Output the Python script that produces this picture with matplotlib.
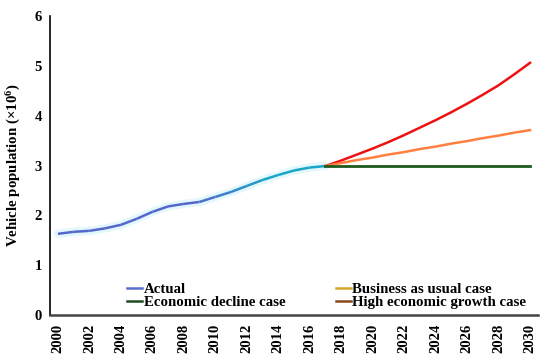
import numpy as np
import matplotlib
matplotlib.use('Agg')
from matplotlib import pyplot as plt
from matplotlib.collections import LineCollection
from matplotlib.lines import Line2D
from matplotlib.colors import to_rgb

plt.rcParams['font.family'] = ['Liberation Serif', 'DejaVu Serif']
plt.rcParams['font.weight'] = 'bold'
plt.rcParams['mathtext.fontset'] = 'custom'
plt.rcParams['mathtext.rm'] = 'Liberation Serif:bold'
plt.rcParams['mathtext.default'] = 'rm'

# data
years_actual = np.arange(2000, 2018)
actual = [1.63, 1.67, 1.69, 1.74, 1.81, 1.93, 2.07, 2.18, 2.23, 2.27,
          2.37, 2.47, 2.59, 2.71, 2.81, 2.90, 2.96, 2.99]
years_proj = np.arange(2017, 2031)
business_as_usual = [2.99, 3.05, 3.11, 3.16, 3.22, 3.27, 3.33, 3.38,
                     3.44, 3.49, 3.55, 3.60, 3.66, 3.71]
economic_decline = [2.99] * 14
high_growth = [2.99, 3.10, 3.22, 3.34, 3.47, 3.61, 3.76, 3.91,
               4.07, 4.24, 4.42, 4.61, 4.83, 5.06]
xticks = np.arange(2000, 2031, 2)

fig = plt.figure(figsize=(5.5, 3.63), dpi=100)
ax = fig.add_axes([0.091, 0.132, 0.887, 0.824])

# actual: blue fading into cyan, with a faint glow
c0, c1 = np.array(to_rgb('#5566cc')), np.array(to_rgb('#1aa5c8'))
pts = np.column_stack([years_actual, actual])
segs = np.stack([pts[:-1], pts[1:]], axis=1)
t = np.clip((np.arange(len(segs)) - 8) / 5, 0, 1)
cols = [tuple(c0 * (1 - f) + c1 * f) for f in t]
ax.plot(years_actual, actual, color='#e3f8fc', lw=6, solid_capstyle='round', zorder=1)
ax.add_collection(LineCollection(segs, colors=cols, linewidths=1.8, zorder=3))

ax.plot(years_proj, high_growth, color='#ee1111', lw=1.8, zorder=3)
ax.plot(years_proj, business_as_usual, color='#ff7f3f', lw=1.8, zorder=3)
ax.plot(years_proj, economic_decline, color='#1d5a1d', lw=2.0, zorder=4)

ax.set_xlim(1999.5, 2030.5)
ax.set_ylim(0, 6)
ax.set_xticks(xticks)
ax.set_xticklabels([str(x) for x in xticks], rotation=90, fontsize=10.5, fontweight='bold')
ax.set_yticks(range(7))
ax.set_yticklabels([str(v) for v in range(7)], fontsize=10.5, fontweight='bold')
ax.tick_params(length=0, pad=6)
ax.set_ylabel('Vehicle population (×10$^{6}$)', fontsize=10.7, fontweight='bold', labelpad=8)

for s in ['top', 'right']:
    ax.spines[s].set_visible(False)
ax.spines['left'].set_linewidth(1.2)
ax.spines['bottom'].set_linewidth(1.8)
ax.spines['bottom'].set_color('#444444')

handles = [Line2D([], [], color='#5a6fd0', lw=1.8),
           Line2D([], [], color='#1d4d1d', lw=1.8),
           Line2D([], [], color='#d4a72c', lw=1.8),
           Line2D([], [], color='#8b4a1a', lw=1.8)]
labels = ['Actual', 'Economic decline case', 'Business as usual case',
          'High economic growth case']
ax.legend(handles, labels, ncol=2, loc='lower left', bbox_to_anchor=(0.14, -0.01),
          frameon=False, handlelength=1.0, handletextpad=0.1,
          columnspacing=3.4, labelspacing=0.0, borderaxespad=0.2,
          prop={'weight': 'bold', 'size': 10.7})

fig.savefig('out.png', dpi=100)
